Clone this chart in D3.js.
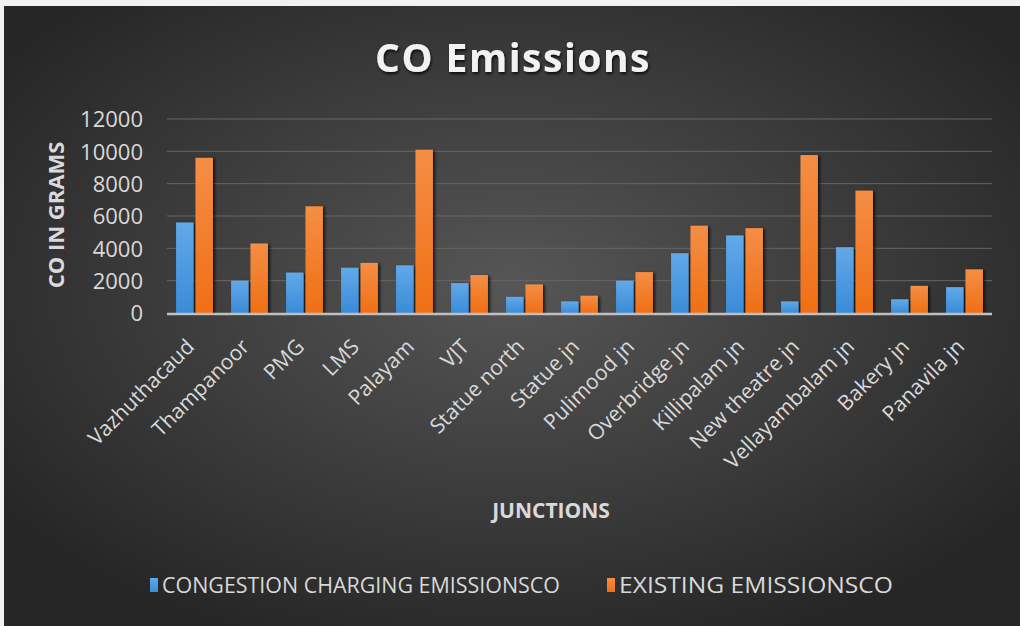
<!DOCTYPE html>
<html>
<head>
<meta charset="utf-8">
<script src="https://cdn.jsdelivr.net/npm/d3@7"></script>
<style>
  html, body { margin: 0; padding: 0; background: #f2f2f2; }
  svg { display: block; }
  text { font-family: "Open Sans", "DejaVu Sans", sans-serif; }
</style>
</head>
<body>
<div id="chart"></div>
<script>
var junctions = ["Vazhuthacaud", "Thampanoor", "PMG", "LMS", "Palayam", "VJT", "Statue north",
  "Statue jn", "Pulimood jn", "Overbridge jn", "Killipalam jn", "New theatre jn",
  "Vellayambalam jn", "Bakery jn", "Panavila jn"];
var congestionCO = [5600, 2000, 2500, 2800, 2950, 1850, 1000, 720, 2000, 3700, 4800, 720, 4070, 850, 1600];
var existingCO = [9600, 4300, 6600, 3100, 10100, 2350, 1770, 1070, 2530, 5400, 5250, 9770, 7570, 1680, 2700];
var seriesNames = ["CONGESTION CHARGING EMISSIONSCO", "EXISTING EMISSIONSCO"];
var yTicks = [0, 2000, 4000, 6000, 8000, 10000, 12000];

var width = 1020;
var height = 626;

var svg = d3.select("#chart")
  .append("svg")
  .attr("width", width)
  .attr("height", height);

var defs = svg.append("defs");

// background radial gradient
var bg = defs.append("radialGradient")
  .attr("id", "bg")
  .attr("cx", "50%").attr("cy", "45%").attr("r", "62%");
bg.append("stop").attr("offset", "0%").attr("stop-color", "#565656");
bg.append("stop").attr("offset", "100%").attr("stop-color", "#262626");

var blueGrad = defs.append("linearGradient").attr("id", "blueGrad")
  .attr("x1", 0).attr("y1", 0).attr("x2", 0).attr("y2", 1);
blueGrad.append("stop").attr("offset", "0%").attr("stop-color", "#62a9e8");
blueGrad.append("stop").attr("offset", "100%").attr("stop-color", "#3a8bd8");

var orangeGrad = defs.append("linearGradient").attr("id", "orangeGrad")
  .attr("x1", 0).attr("y1", 0).attr("x2", 0).attr("y2", 1);
orangeGrad.append("stop").attr("offset", "0%").attr("stop-color", "#f48e45");
orangeGrad.append("stop").attr("offset", "100%").attr("stop-color", "#f06f15");

var shadow = defs.append("filter").attr("id", "shadow")
  .attr("x", "-30%").attr("y", "-10%").attr("width", "160%").attr("height", "120%");
shadow.append("feDropShadow")
  .attr("dx", 2).attr("dy", 1).attr("stdDeviation", 1.5)
  .attr("flood-color", "#000").attr("flood-opacity", 0.7);

var titleShadow = defs.append("filter").attr("id", "tshadow");
titleShadow.append("feDropShadow")
  .attr("dx", 1).attr("dy", 2).attr("stdDeviation", 1.5)
  .attr("flood-color", "#000").attr("flood-opacity", 0.8);

svg.append("rect")
  .attr("x", 4).attr("y", 6)
  .attr("width", width - 4).attr("height", height - 6)
  .attr("fill", "url(#bg)");

var plotLeft = 167, plotRight = 992, plotTop = 119, plotBottom = 313;

var x0 = d3.scaleBand()
  .domain(junctions)
  .range([plotLeft, plotRight])
  .paddingInner(0.33)
  .paddingOuter(0.165);

var x1 = d3.scaleBand()
  .domain([0, 1])
  .range([0, x0.bandwidth()])
  .paddingInner(0.1);

var y = d3.scaleLinear()
  .domain([0, 12000])
  .range([plotBottom, plotTop]);

// gridlines
svg.append("g")
  .selectAll("line")
  .data(yTicks.filter(d => d > 0))
  .enter()
  .append("line")
  .attr("x1", plotLeft).attr("x2", plotRight)
  .attr("y1", d => y(d)).attr("y2", d => y(d))
  .attr("stroke", "#666666")
  .attr("stroke-width", 1);

// y tick labels
var yAxis = svg.append("g")
  .attr("transform", `translate(${plotLeft - 24},0)`)
  .call(d3.axisLeft(y).tickValues(yTicks).tickFormat(d3.format("d")).tickSize(0).tickPadding(0));
yAxis.select(".domain").remove();
yAxis.selectAll("text")
  .attr("fill", "#d9d9d9")
  .style("font-size", "22px")
  .style("font-family", "\"Open Sans\", sans-serif")
  .attr("dy", "0.36em");

// bars
var groups = svg.append("g")
  .selectAll("g")
  .data(junctions)
  .enter()
  .append("g")
  .attr("transform", d => `translate(${x0(d)},0)`);

groups.append("rect")
  .attr("x", x1(0))
  .attr("width", x1.bandwidth())
  .attr("y", (d, i) => y(congestionCO[i]))
  .attr("height", (d, i) => y(0) - y(congestionCO[i]))
  .attr("fill", "url(#blueGrad)")
  .attr("filter", "url(#shadow)");

groups.append("rect")
  .attr("x", x1(1))
  .attr("width", x1.bandwidth())
  .attr("y", (d, i) => y(existingCO[i]))
  .attr("height", (d, i) => y(0) - y(existingCO[i]))
  .attr("fill", "url(#orangeGrad)")
  .attr("filter", "url(#shadow)");

// x axis line
svg.append("line")
  .attr("x1", plotLeft).attr("x2", plotRight)
  .attr("y1", plotBottom + 1).attr("y2", plotBottom + 1)
  .attr("stroke", "#bfbfbf")
  .attr("stroke-width", 2.5);

// x labels
svg.append("g")
  .selectAll("text")
  .data(junctions)
  .enter()
  .append("text")
  .attr("transform", d => `translate(${x0(d) + x0.bandwidth() / 2 + 1},${plotBottom + 35}) rotate(-45)`)
  .attr("text-anchor", "end")
  .attr("fill", "#d9d9d9")
  .style("font-size", "21px")
  .text(d => d);

// title
svg.append("text")
  .attr("x", 513).attr("y", 72)
  .attr("text-anchor", "middle")
  .attr("fill", "#f2f2f2")
  .attr("filter", "url(#tshadow)")
  .style("font-size", "39px")
  .style("font-weight", "bold")
  .style("letter-spacing", "1.5px")
  .text("CO Emissions");

// axis titles
svg.append("text")
  .attr("transform", "translate(64,215) rotate(-90)")
  .attr("text-anchor", "middle")
  .attr("fill", "#d9d9d9")
  .style("font-size", "22px")
  .style("font-weight", "bold")
  .text("CO IN GRAMS");

svg.append("text")
  .attr("x", 551).attr("y", 518)
  .attr("text-anchor", "middle")
  .attr("fill", "#d9d9d9")
  .style("font-size", "21px")
  .style("font-weight", "bold")
  .text("JUNCTIONS");

// legend
var legendX = [150, 607];
var legendW = [410, 286];
var legend = svg.append("g")
  .selectAll("g")
  .data(seriesNames)
  .enter()
  .append("g")
  .attr("transform", (d, i) => `translate(${legendX[i]},585)`);

legend.append("rect")
  .attr("x", 0).attr("y", -7)
  .attr("width", 8).attr("height", 14)
  .attr("fill", (d, i) => i === 0 ? "url(#blueGrad)" : "url(#orangeGrad)");

legend.append("text")
  .attr("x", 12).attr("y", 8)
  .attr("fill", "#d9d9d9")
  .style("font-size", "22px")
  .attr("textLength", (d, i) => legendW[i] - 12)
  .attr("lengthAdjust", "spacingAndGlyphs")
  .text(d => d);
</script>
</body>
</html>
